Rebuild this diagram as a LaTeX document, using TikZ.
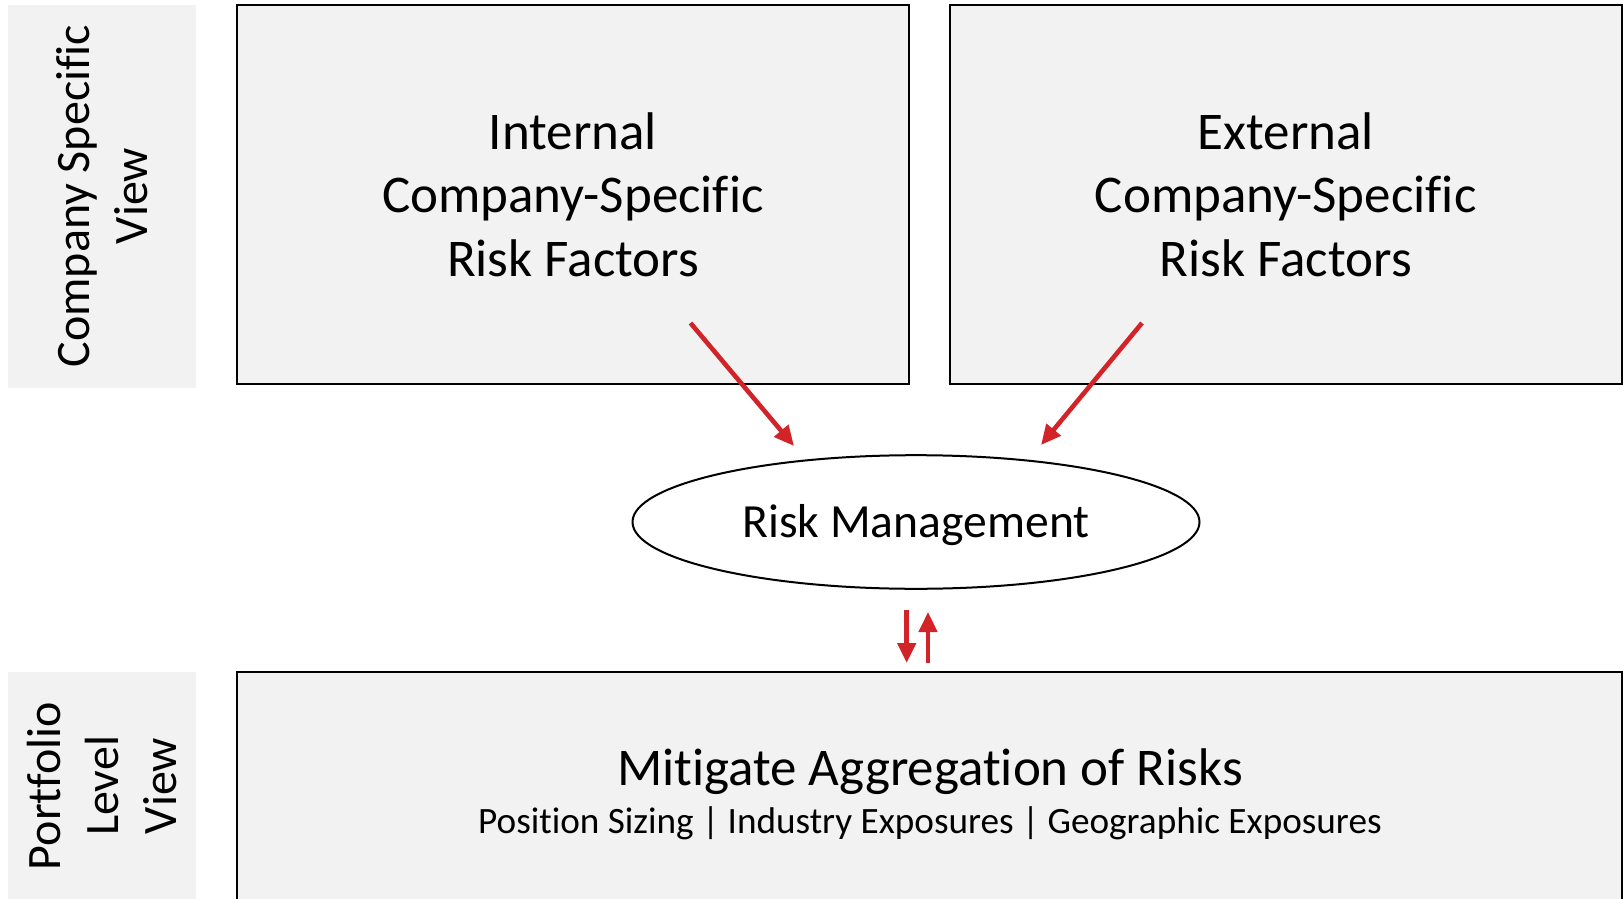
\documentclass[tikz,border=0pt]{standalone}
\usepackage{fontspec}
\setmainfont{Carlito}[Ligatures={NoCommon,NoRare,NoContextual}]
\usetikzlibrary{shapes.geometric,arrows.meta}
\definecolor{boxgray}{HTML}{F2F2F2}
\definecolor{arrred}{RGB}{210,35,40}
\tikzset{
  panel/.style={draw=black, line width=1pt, fill=boxgray, inner sep=0pt},
  sidelabel/.style={fill=boxgray, inner sep=0pt},
  sidetext/.style={rotate=90, align=center, font=\fontsize{24}{29}\selectfont},
  titletext/.style={align=center, font=\fontsize{26.5}{31.8}\selectfont},
  redarrow/.style={draw=arrred, line width=2.3pt, -{Triangle[length=10pt,width=9pt]}},
}
\begin{document}
\begin{tikzpicture}[x=0.5pt,y=-0.5pt]
\useasboundingbox (0,0) rectangle (1623,899);
% side labels
\node[sidelabel, minimum width=94pt, minimum height=191.5pt] (lbltop) at (102,196.5) {};
\node[sidetext] (lbltoptxt) at (102,196) {Company Specific\\View};
\node[sidelabel, minimum width=94pt, minimum height=116.5pt] (lblbot) at (102,788.5) {};
\node[sidetext] (lblbottxt) at (102,786) {Portfolio\\Level\\View};
% top boxes
\node[panel, minimum width=336pt, minimum height=189.5pt, titletext] (internal) at (573,194.5)
  {Internal\\Company-Specific\\Risk Factors};
\node[panel, minimum width=335.75pt, minimum height=189.5pt, titletext] (external) at (1285.75,194.5)
  {External\\Company-Specific\\Risk Factors};
% bottom box
\node[panel, minimum width=692.25pt, minimum height=116.5pt] (portfolio) at (929.25,788.5) {};
\node[align=center, inner sep=0pt] (portfoliotxt) at (930,794)
  {{\fontsize{26.5}{31.8}\selectfont Mitigate Aggregation of Risks}\\[5pt]
   {\fontsize{18.6}{22}\selectfont Position Sizing | Industry Exposures | Geographic Exposures}};
% ellipse
\node[ellipse, draw=black, line width=1pt, fill=white, minimum width=283.5pt, minimum height=66.8pt,
  inner sep=0pt] (riskmgmt) at (916,522) {};
\node[anchor=base, inner sep=0pt, font=\fontsize{23.8}{28}\selectfont] (riskmgmttxt) at (916,537.5) {Risk Management};
% arrow anchor coordinates
\coordinate (intS) at (690.5,323);
\coordinate (intE) at (794,446);
\coordinate (extS) at (1142,323);
\coordinate (extE) at (1041,445);
\coordinate (dnS) at (906.7,610);
\coordinate (dnE) at (906.7,663);
\coordinate (upS) at (928,663);
\coordinate (upE) at (928,612);
\draw[redarrow] (intS) -- (intE);
\draw[redarrow] (extS) -- (extE);
\draw[redarrow] (dnS) -- (dnE);
\draw[redarrow] (upS) -- (upE);
\end{tikzpicture}
\end{document}
